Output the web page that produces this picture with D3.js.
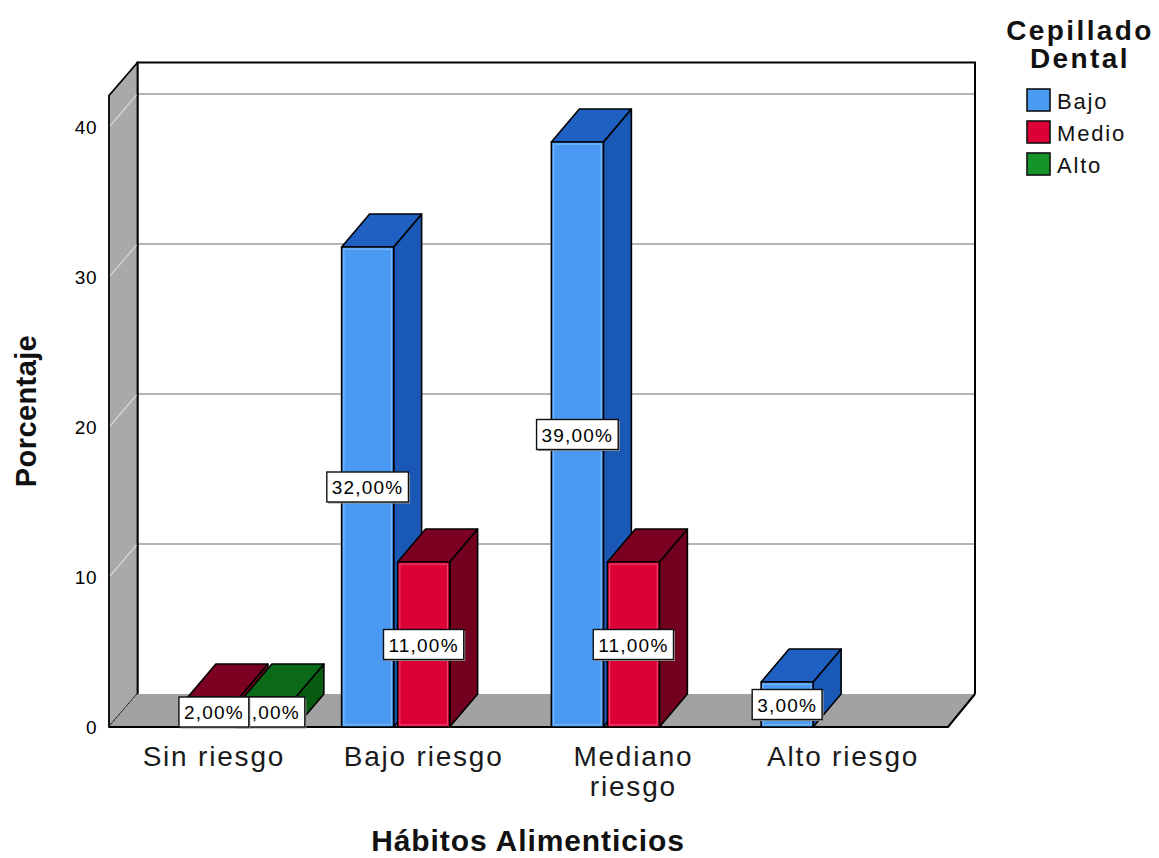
<!DOCTYPE html>
<html>
<head>
<meta charset="utf-8">
<script src="https://cdn.jsdelivr.net/npm/d3@7/dist/d3.min.js"></script>
<style>
  html, body { margin: 0; padding: 0; background: #ffffff; }
  svg { display: block; font-family: "Liberation Sans", Arial, sans-serif; }
</style>
</head>
<body>
<svg id="chart" width="1159" height="858"></svg>
<script>
// Percentage of respondents by eating habits and tooth-brushing level
const categories = ["Sin riesgo", "Bajo riesgo", "Mediano riesgo", "Alto riesgo"];
const seriesNames = ["Bajo", "Medio", "Alto"];
const bajoValues  = [0, 32, 39, 3];
const medioValues = [2, 11, 11, 0];
const altoValues  = [2, 0, 0, 0];
const yTickValues = [0, 10, 20, 30, 40];
const yMax = 42.1;

const seriesValues = [bajoValues, medioValues, altoValues];

// colours per series: front face, top face, side face, inner highlight
const palette = {
  Bajo:  { front: "#4a9af4", top: "#1f60c2", side: "#1a58b6", hi: "#86c0ff" },
  Medio: { front: "#dc0036", top: "#7c0022", side: "#72001f", hi: "#f24d78" },
  Alto:  { front: "#14952a", top: "#0b6a17", side: "#075c12", hi: "#4fc060" }
};

const svg = d3.select("#chart");

// plot geometry: front plane of the floor and depth offset of the 3D box
const frontLeft = 109, frontRight = 948;
const depthX = 28, depthY = 33;

const x = d3.scaleBand().domain(categories).range([frontLeft, frontRight]);
const xSeries = d3.scaleBand().domain(seriesNames).range([-84, 84]);
const y = d3.scaleLinear().domain([0, yMax]).range([727, 727 - 15 * yMax]);

const backLeft = frontLeft + depthX + 0.5;
const backRight = frontRight + depthX - 1;
const backTop = y(yMax) - depthY;
const backBottom = y(0) - depthY;

// back wall
svg.append("rect")
  .attr("x", backLeft).attr("y", backTop)
  .attr("width", backRight - backLeft).attr("height", backBottom - backTop)
  .attr("fill", "#ffffff");

// gridlines on the back wall
svg.append("g").selectAll("line")
  .data(yTickValues.filter(v => v > 0))
  .join("line")
  .attr("x1", backLeft).attr("x2", backRight)
  .attr("y1", d => y(d) - depthY).attr("y2", d => y(d) - depthY)
  .attr("stroke", "#b4b4b4").attr("stroke-width", 2);

// back wall outline (top, left, right)
svg.append("path")
  .attr("d", `M${backLeft},${backBottom}V${backTop}H${backRight}V${backBottom}`)
  .attr("fill", "none").attr("stroke", "#000").attr("stroke-width", 2);

// left side wall
svg.append("path")
  .attr("d", `M${frontLeft},${y(0)}V${y(yMax)}L${backLeft},${backTop}V${backBottom}Z`)
  .attr("fill", "#a9a9a9").attr("stroke", "#000").attr("stroke-width", 1.8)
  .attr("stroke-linejoin", "round");

svg.append("g").selectAll("line")
  .data(yTickValues.filter(v => v > 0))
  .join("line")
  .attr("x1", frontLeft + 1).attr("x2", backLeft - 1)
  .attr("y1", d => y(d) - 1).attr("y2", d => y(d) - depthY + 1)
  .attr("stroke", "#d6d6d6").attr("stroke-width", 1.2);

// floor
svg.append("path")
  .attr("d", `M${frontLeft},${y(0)}H${frontRight}L${backRight},${backBottom}H${backLeft}Z`)
  .attr("fill", "#a2a2a2");
svg.append("path")
  .attr("d", `M${frontLeft},${y(0)}H${frontRight}L${backRight},${backBottom}`)
  .attr("fill", "none").attr("stroke", "#000").attr("stroke-width", 2);
svg.append("line")
  .attr("x1", frontLeft + 1).attr("y1", y(0) - 1)
  .attr("x2", backLeft - 1).attr("y2", backBottom + 1)
  .attr("stroke", "#d0d0d0").attr("stroke-width", 1).attr("stroke-dasharray", "1,1");

// bar records
const bars = [];
categories.forEach((cat, i) => {
  seriesNames.forEach((s, j) => {
    const v = seriesValues[j][i];
    if (v > 0) {
      bars.push({
        cat, series: s, value: v,
        x0: x(cat) + x.bandwidth() / 2 + xSeries(s) + 2,
        w: xSeries.bandwidth() - 4
      });
    }
  });
});

// draw bars left to right so each bar covers the side face of its left neighbour
const barG = svg.append("g");
bars.forEach(b => {
  const c = palette[b.series];
  const x0 = b.x0, x1 = b.x0 + b.w;
  const yt = y(b.value), yb = y(0);
  const g = barG.append("g").attr("stroke", "#000").attr("stroke-width", 1.6)
    .attr("stroke-linejoin", "round");
  // side face
  g.append("path")
    .attr("d", `M${x1},${yt}L${x1 + depthX},${yt - depthY}V${yb - depthY}L${x1},${yb}Z`)
    .attr("fill", c.side);
  // top face
  g.append("path")
    .attr("d", `M${x0},${yt}L${x0 + depthX},${yt - depthY}H${x1 + depthX}L${x1},${yt}Z`)
    .attr("fill", c.top);
  // front face
  g.append("rect")
    .attr("x", x0).attr("y", yt).attr("width", b.w).attr("height", yb - yt)
    .attr("fill", c.front);
  // soft inner highlight of the front face
  if (yb - yt > 6) {
    g.append("rect")
      .attr("x", x0 + 2.2).attr("y", yt + 2.2)
      .attr("width", b.w - 4.4).attr("height", yb - yt - 4.4)
      .attr("fill", "none").attr("stroke", c.hi).attr("stroke-width", 1.2)
      .attr("stroke-opacity", 0.8);
  }
});

// value labels, drawn right to left so left-hand boxes sit on top
const fmt = v => d3.format(".2f")(v).replace(".", ",") + "%";
const labelG = svg.append("g");
bars.slice().reverse().forEach(b => {
  const cx = b.x0 + b.w / 2;
  const cy = (y(b.value) + y(0)) / 2;
  const g = labelG.append("g");
  const t = g.append("text")
    .attr("x", cx).attr("y", cy + 7)
    .attr("text-anchor", "middle")
    .attr("font-size", 19).attr("letter-spacing", 1.2)
    .attr("fill", "#000")
    .text(fmt(b.value));
  const tw = t.node().getComputedTextLength();
  const bw = tw + 10, bh = 30;
  g.insert("rect", "text")
    .attr("x", cx - bw / 2 + 1.5).attr("y", cy - bh / 2 + 1.5)
    .attr("width", bw).attr("height", bh)
    .attr("fill", "#9a9a9a");
  g.insert("rect", "text")
    .attr("x", cx - bw / 2).attr("y", cy - bh / 2)
    .attr("width", bw).attr("height", bh)
    .attr("fill", "#ffffff").attr("stroke", "#111").attr("stroke-width", 1.4);
});

// y axis (front plane)
const yAxis = svg.append("g")
  .attr("transform", "translate(99,0)")
  .call(d3.axisLeft(y).tickValues(yTickValues).tickSize(0).tickPadding(2).tickFormat(d3.format("d")));
yAxis.select(".domain").remove();
yAxis.selectAll("text")
  .attr("font-family", "'Liberation Sans', Arial, sans-serif")
  .attr("font-size", 19).attr("letter-spacing", 0.5).attr("fill", "#000").attr("dy", "0.36em");

// category axis
const xAxis = svg.append("g")
  .attr("transform", `translate(0,${y(0)})`)
  .call(d3.axisBottom(x).tickSize(0).tickPadding(0));
xAxis.select(".domain").remove();
xAxis.selectAll("text")
  .attr("font-family", "'Liberation Sans', Arial, sans-serif")
  .attr("font-size", 28).attr("letter-spacing", 1.8).attr("fill", "#1a1a1a")
  .attr("y", 39).attr("dy", 0)
  .each(function () {
    const text = d3.select(this);
    const words = text.text().split(" ");
    if (this.getComputedTextLength() > 185 && words.length > 1) {
      text.text(null);
      words.forEach((w, k) => {
        text.append("tspan").attr("x", 0).attr("y", 39 + k * 30).text(w);
      });
    }
  });

// axis titles
svg.append("text")
  .attr("x", 528).attr("y", 851)
  .attr("text-anchor", "middle")
  .attr("font-size", 30).attr("font-weight", "bold").attr("letter-spacing", 0.9)
  .attr("fill", "#111")
  .text("Hábitos Alimenticios");

svg.append("text")
  .attr("transform", "translate(36,411) rotate(-90)")
  .attr("text-anchor", "middle")
  .attr("font-size", 29).attr("font-weight", "bold").attr("letter-spacing", 0.4)
  .attr("fill", "#111")
  .text("Porcentaje");

// legend
const legend = svg.append("g");
legend.append("text")
  .attr("x", 1080).attr("y", 40)
  .attr("text-anchor", "middle")
  .attr("font-size", 28).attr("font-weight", "bold").attr("letter-spacing", 2.4)
  .attr("fill", "#111")
  .text("Cepillado");
legend.append("text")
  .attr("x", 1080).attr("y", 68)
  .attr("text-anchor", "middle")
  .attr("font-size", 28).attr("font-weight", "bold").attr("letter-spacing", 2.4)
  .attr("fill", "#111")
  .text("Dental");

const legendItem = legend.selectAll("g.item")
  .data(seriesNames)
  .join("g").attr("class", "item")
  .attr("transform", (d, k) => `translate(1027,${89 + k * 32})`);
legendItem.append("rect")
  .attr("width", 23).attr("height", 22)
  .attr("fill", d => palette[d].front)
  .attr("stroke", "#111").attr("stroke-width", 1.6);
legendItem.append("text")
  .attr("x", 30).attr("y", 20)
  .attr("font-size", 22).attr("letter-spacing", 1.8)
  .attr("fill", "#111")
  .text(d => d);
</script>
</body>
</html>
